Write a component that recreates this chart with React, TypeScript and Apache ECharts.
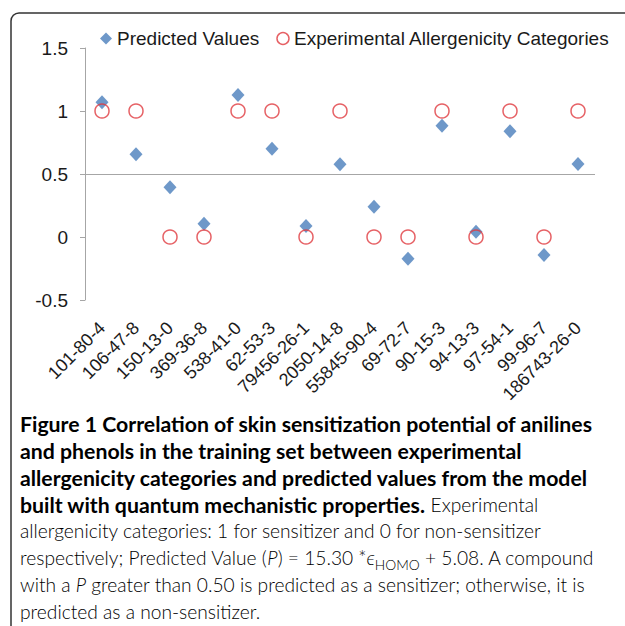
import React, { useEffect, useRef } from "react";
import * as echarts from "echarts";

const categories = [
  "101-80-4", "106-47-8", "150-13-0", "369-36-8", "538-41-0", "62-53-3", "79456-26-1",
  "2050-14-8", "55845-90-4", "69-72-7", "90-15-3", "94-13-3", "97-54-1", "99-96-7", "186743-26-0",
];
const predictedValues = [1.07, 0.656, 0.394, 0.106, 1.127, 0.7, 0.087, 0.577, 0.24, -0.172, 0.883, 0.042, 0.84, -0.143, 0.58];
const experimentalCategories = [1, 1, 0, 0, 1, 1, 0, 1, 0, 0, 1, 0, 1, 0, 1];
const yTicks = [-0.5, 0, 0.5, 1, 1.5];
const thresholdValue = 0.5;
const seriesNames = ["Predicted Values", "Experimental Allergenicity Categories"];

const captionLines = [
  "{b|Figure 1 Correlation of skin sensitization potential of anilines}",
  "{b|and phenols in the training set between experimental}",
  "{b|allergenicity categories and predicted values from the model}",
  "{b|built with quantum mechanistic properties.}{r| Experimental}",
  "{r|allergenicity categories: 1 for sensitizer and 0 for non-sensitizer}",
  "{r|respectively; Predicted Value (}{i|P}{r|) = 15.30 *}{i|ϵ}{s|HOMO}{r| + 5.08. A compound}",
  "{r|with a }{i|P}{r| greater than 0.50 is predicted as a sensitizer; otherwise, it is}",
  "{r|predicted as a non-sensitizer.}",
];

const CAP_FONT = "Lato";

function measure(text: string, font: string): number {
  const c = document.createElement("canvas");
  const ctx = c.getContext("2d");
  if (!ctx) return 1;
  ctx.font = font;
  return ctx.measureText(text).width;
}

export default function App() {
  const ref = useRef<HTMLDivElement>(null);
  useEffect(() => {
    document.body.style.margin = "0";
    if (!ref.current) return;
    const chart = echarts.init(ref.current, undefined, { renderer: "svg" });

    const boldRef = "Figure 1 Correlation of skin sensitization potential of anilines";
    const bw = measure(boldRef, `bold 20px ${CAP_FONT}`);
    const bs = +(20 * 573 / bw).toFixed(2);

    const r5 = measure("allergenicity categories: 1 for sensitizer and 0 for non-sensitizer", `300 20px ${CAP_FONT}`);
    const r6 =
      measure("respectively; Predicted Value (P) = 15.30 *ϵ + 5.08. A compound", `300 20px ${CAP_FONT}`) +
      measure("HOMO", `300 14.4px ${CAP_FONT}`);
    const r7 = measure("with a P greater than 0.50 is predicted as a sensitizer; otherwise, it is", `300 20px ${CAP_FONT}`);
    const rs = +Math.min(20 * 557 / r5, 20 * 576 / r6, 20 * 580 / r7).toFixed(2);

    const rich = {
      b: { fontFamily: CAP_FONT, fontWeight: "bold", fontSize: bs, color: "#231f20", lineHeight: 28 },
      r: { fontFamily: CAP_FONT, fontWeight: 300, fontSize: rs, color: "#4a4a4a", lineHeight: 28 },
      i: { fontFamily: CAP_FONT, fontWeight: 300, fontStyle: "italic", fontSize: rs, color: "#4a4a4a", lineHeight: 28 },
      s: { fontFamily: CAP_FONT, fontWeight: 300, fontSize: rs * 0.72, color: "#4a4a4a", lineHeight: 19, verticalAlign: "bottom" },
    };

    const captionGraphics = captionLines.map((t, i) => ({
      type: "text",
      left: 20,
      top: 413 + 27 * i,
      silent: true,
      style: { text: t, rich, verticalAlign: "top" },
    }));

    chart.setOption({
      animation: false,
      backgroundColor: "#fff",
      textStyle: { fontFamily: "Liberation Sans, Arial, sans-serif" },
      grid: { left: 85, right: 30, top: 48, bottom: 326, containLabel: false },
      legend: {
        left: 100,
        top: 29,
        padding: 0,
        itemWidth: 12,
        itemHeight: 12,
        itemGap: 17,
        textStyle: { fontSize: 19, color: "#1a1a1a", fontFamily: "Liberation Sans, Arial, sans-serif" },
        data: [
          { name: seriesNames[0], icon: "diamond", itemStyle: { color: "#4a7ebb" } },
          {
            name: seriesNames[1],
            icon: "circle",
            itemStyle: { color: "rgba(0,0,0,0)", borderColor: "#e0393e", borderWidth: 1.5 },
          },
        ],
      },
      xAxis: {
        type: "category",
        data: categories,
        boundaryGap: true,
        axisLine: { show: false, onZero: false },
        axisTick: { show: false },
        splitLine: { show: false },
        axisLabel: {
          interval: 0,
          rotate: 45,
          margin: 25,
          fontSize: 18,
          color: "#1a1a1a",
          fontFamily: "Liberation Sans, Arial, sans-serif",
        },
      },
      yAxis: {
        type: "value",
        min: yTicks[0],
        max: yTicks[yTicks.length - 1],
        interval: yTicks[1] - yTicks[0],
        axisLine: { show: true, lineStyle: { color: "#a6a6a6", width: 1 } },
        axisTick: { show: true, inside: false, length: 5, lineStyle: { color: "#a6a6a6" } },
        splitLine: { show: false },
        axisLabel: {
          margin: 17,
          fontSize: 19,
          color: "#1a1a1a",
          fontFamily: "Liberation Sans, Arial, sans-serif",
        },
      },
      series: [
        {
          name: seriesNames[0],
          type: "scatter",
          symbol: "diamond",
          symbolSize: [13, 14],
          itemStyle: { color: "#4a7ebb" },
          data: predictedValues,
          markLine: {
            silent: true,
            symbol: "none",
            label: { show: false },
            lineStyle: { color: "#a6a6a6", width: 1, type: "solid" },
            data: [{ yAxis: thresholdValue }],
          },
          z: 2,
        },
        {
          name: seriesNames[1],
          type: "scatter",
          symbol: "circle",
          symbolSize: 14,
          itemStyle: { color: "rgba(0,0,0,0)", borderColor: "#e0393e", borderWidth: 1.5 },
          data: experimentalCategories,
          z: 3,
        },
      ],
      graphic: [
        {
          type: "rect",
          silent: true,
          shape: { x: 11, y: 13, width: 900, height: 900, r: 8 },
          style: { fill: "none", stroke: "#333", lineWidth: 1.5 },
        },
        ...captionGraphics,
      ],
    });

    return () => chart.dispose();
  }, []);

  return <div ref={ref} style={{ width: 625, height: 626 }} />;
}
